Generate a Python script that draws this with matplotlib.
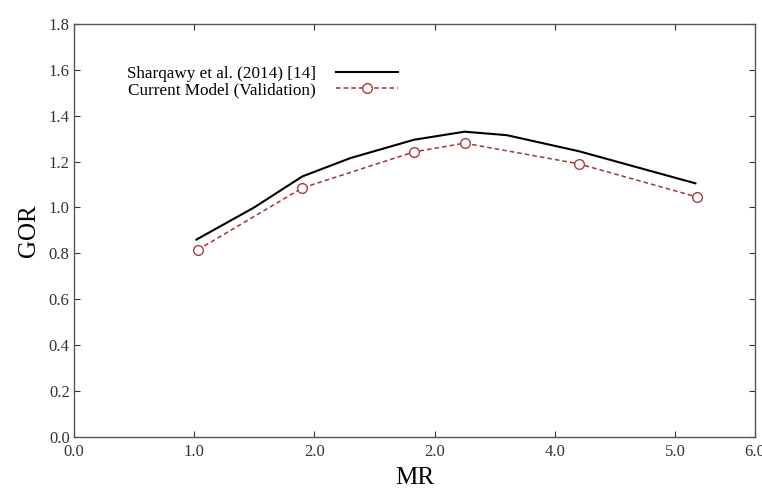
import matplotlib.pyplot as plt
import numpy as np

plt.rcParams['font.family'] = ['Liberation Serif', 'DejaVu Serif']

# Sharqawy et al. (2014) reference curve
mr_ref = [1.02, 1.5, 1.9, 2.3, 2.83, 3.25, 3.6, 4.2, 5.17]
gor_ref = [0.86, 1.0, 1.135, 1.215, 1.295, 1.33, 1.315, 1.245, 1.105]

# current model validation points
mr_model = [1.03, 1.9, 2.83, 3.25, 4.2, 5.18]
gor_model = [0.815, 1.085, 1.242, 1.28, 1.19, 1.046]

x_ticks = [0, 1, 2, 3, 4, 5, 5.667]
x_labels = ['0.0', '1.0', '2.0', '2.0', '4.0', '5.0', '6.0']
y_ticks = np.arange(0, 1.81, 0.2)

fig = plt.figure(figsize=(7.62, 4.97), dpi=100)
ax = fig.add_axes([0.097, 0.121, 0.894, 0.831])

ax.plot(mr_ref, gor_ref, color='black', lw=1.5, label='Sharqawy et al. (2014) [14]')
ax.plot(mr_model, gor_model, color='#a83232', lw=1.1, ls=(0, (3, 2)),
        marker='o', ms=7, mfc='white', mec='#b03a3a', mew=1.0,
        label='Current Model (Validation)')

ax.set_xlim(0, 5.667)
ax.set_ylim(0, 1.8)
ax.set_xticks(x_ticks)
ax.set_xticklabels(x_labels)
ax.set_yticks(y_ticks)
ax.set_yticklabels(['%.1f' % v for v in y_ticks])
ax.tick_params(direction='in', top=True, right=True, length=4, width=0.8,
               labelsize=12, colors='#333333')
ax.tick_params(axis='x', pad=5)
ax.tick_params(axis='y', pad=3)
for s in ax.spines.values():
    s.set_color('#555555')
    s.set_linewidth(1.0)

ax.set_xlabel('MR', fontsize=18, labelpad=5)
ax.set_ylabel('GOR', fontsize=18, labelpad=6)

ax.legend(loc='upper left', bbox_to_anchor=(0.055, 0.935), frameon=False,
          markerfirst=False, fontsize=12.3, handlelength=3.6,
          handletextpad=1.2, labelspacing=0.0)

fig.savefig('out.png', dpi=100)
